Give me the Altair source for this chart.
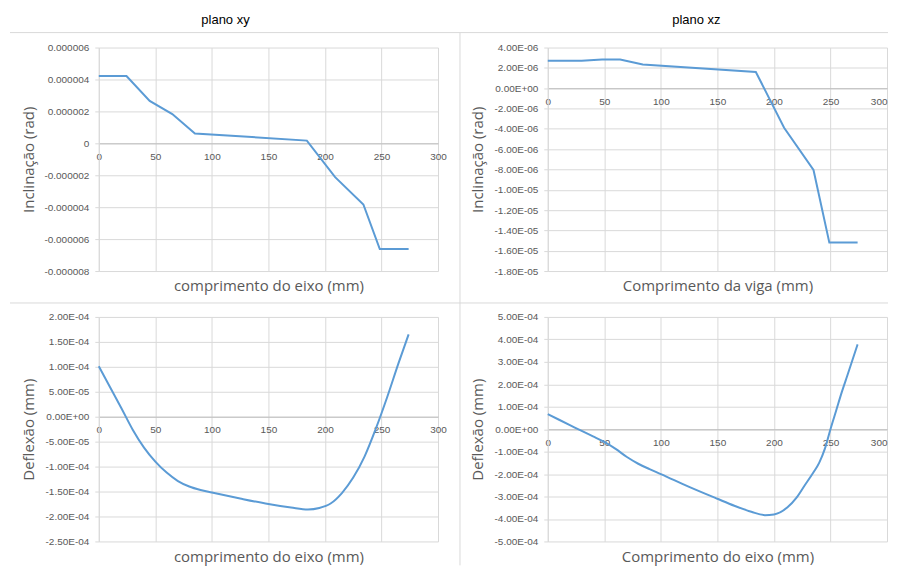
import json
import altair as alt
import pandas as pd

# ---------------- data ----------------
x_ticks = [0, 50, 100, 150, 200, 250, 300]

# Inclinação, plano xy
x_incl_xy = [0, 24.5, 45, 65, 85, 184, 209, 234, 248.5, 274]
y_incl_xy = [4.22e-6, 4.22e-6, 2.66e-6, 1.83e-6, 0.62e-6, 0.17e-6,
             -2.12e-6, -3.83e-6, -6.62e-6, -6.62e-6]

# Inclinação, plano xz
x_incl_xz = [0, 30, 48, 64, 84, 184, 209, 235, 249, 274]
y_incl_xz = [2.70e-6, 2.70e-6, 2.83e-6, 2.83e-6, 2.33e-6, 1.60e-6,
             -3.90e-6, -8.05e-6, -15.2e-6, -15.2e-6]

# Deflexão, plano xy
x_defl_xy = [0, 10, 20, 30, 40, 50, 60, 70, 80, 90, 100, 125, 150, 170,
             185, 195, 205, 215, 225, 235, 245, 255, 265, 274]
y_defl_xy = [1.01e-4, 0.59e-4, 0.17e-4, -0.26e-4, -0.62e-4, -0.90e-4,
             -1.12e-4, -1.29e-4, -1.40e-4, -1.47e-4, -1.52e-4, -1.64e-4,
             -1.75e-4, -1.82e-4, -1.86e-4, -1.83e-4, -1.74e-4, -1.53e-4,
             -1.22e-4, -0.80e-4, -0.24e-4, 0.39e-4, 1.07e-4, 1.65e-4]

# Deflexão, plano xz
x_defl_xz = [0, 10, 20, 30, 40, 50, 60, 70, 80, 90, 100, 125, 150, 165,
             180, 192, 200, 212, 220, 227, 235, 240, 245, 250, 255, 260,
             265, 274]
y_defl_xz = [0.67e-4, 0.42e-4, 0.17e-4, -0.08e-4, -0.32e-4, -0.57e-4,
             -0.88e-4, -1.24e-4, -1.54e-4, -1.78e-4, -2.00e-4, -2.57e-4,
             -3.10e-4, -3.41e-4, -3.68e-4, -3.83e-4, -3.80e-4, -3.48e-4,
             -3.05e-4, -2.52e-4, -1.92e-4, -1.50e-4, -0.88e-4, 0.0,
             0.82e-4, 1.65e-4, 2.40e-4, 3.78e-4]

# y tick labels (bottom to top)
ylab_incl_xy = ["-0.000008", "-0.000006", "-0.000004", "-0.000002", "0",
                "0.000002", "0.000004", "0.000006"]
ylab_incl_xz = ["-1.80E-05", "-1.60E-05", "-1.40E-05", "-1.20E-05",
                "-1.00E-05", "-8.00E-06", "-6.00E-06", "-4.00E-06",
                "-2.00E-06", "0.00E+00", "2.00E-06", "4.00E-06"]
ylab_defl_xy = ["-2.50E-04", "-2.00E-04", "-1.50E-04", "-1.00E-04",
                "-5.00E-05", "0.00E+00", "5.00E-05", "1.00E-04",
                "1.50E-04", "2.00E-04"]
ylab_defl_xz = ["-5.00E-04", "-4.00E-04", "-3.00E-04", "-2.00E-04",
                "-1.00E-04", "0.00E+00", "1.00E-04", "2.00E-04",
                "3.00E-04", "4.00E-04", "5.00E-04"]

# ---------------- styling ----------------
W = 340
GRID = "#d9d9d9"
ZERO = "#bfbfbf"
TEXT = "#595959"
LINE = "#5B9BD5"
LABEL_FONT = "Liberation Sans"
TITLE_FONT = "Open Sans"


def panel(xs, ys, ymin, ystep, ylabels, ytitle, xtitle, h,
          title=None, title_dx=0, interp="linear", deco=False,
          right_edge=False):
    df = pd.DataFrame({"x": xs, "y": ys})
    ymax = ymin + ystep * (len(ylabels) - 1)
    zfb = (0 - ymin) / (ymax - ymin) * h
    yvals = [ymin + i * ystep for i in range(len(ylabels))]
    label_expr = f"{json.dumps(ylabels)}[round((datum.value - ({ymin})) / {ystep})]"

    if right_edge:
        x_align = {"condition": {"test": "datum.value == 300", "value": "right"},
                   "value": "center"}
    else:
        x_align = "center"

    x_axis = alt.Axis(
        values=x_ticks, offset=-zfb, title=xtitle, titleY=zfb + 15,
        titleBaseline="middle", ticks=False, domainColor=ZERO,
        domainWidth=1, gridColor=GRID, labelFlush=False, labelPadding=8,
        labelAlign=x_align,
        labelFont=LABEL_FONT, labelFontSize=10, labelColor=TEXT,
        titleFont=TITLE_FONT, titleFontSize=15, titleColor=TEXT,
        titleFontWeight="normal",
    )
    y_axis = alt.Axis(
        values=yvals, labelExpr=label_expr, title=ytitle, titleX=-70,
        titleY=h / 2, titleBaseline="middle", titleAlign="center",
        tickSize=4, tickColor=GRID, domainColor=GRID, gridColor=GRID,
        labelPadding=6, labelFont=LABEL_FONT, labelFontSize=10,
        labelColor=TEXT, titleFont=TITLE_FONT, titleFontSize=15,
        titleColor=TEXT, titleFontWeight="normal",
    )
    line = alt.Chart(df).mark_line(
        color=LINE, strokeWidth=2, interpolate=interp
    ).encode(
        x=alt.X("x:Q", scale=alt.Scale(domain=[0, 300], nice=False, zero=False), axis=x_axis),
        y=alt.Y("y:Q", scale=alt.Scale(domain=[ymin, ymax], nice=False, zero=False), axis=y_axis),
    )
    layers = [line]
    if deco:
        # light separator lines of the sheet around the four charts
        one = pd.DataFrame({"k": [0]})
        sep = alt.Chart(one).mark_rule(color=GRID, strokeWidth=1)
        layers += [
            sep.encode(x=alt.value(-89), x2=alt.value(791), y=alt.value(-285)),
            sep.encode(x=alt.value(-89), x2=alt.value(791), y=alt.value(-14)),
            sep.encode(x=alt.value(362), y=alt.value(-285), y2=alt.value(249)),
        ]
    ch = alt.layer(*layers).properties(width=W, height=h)
    if title:
        ch = ch.properties(title=alt.TitleParams(
            title, font=LABEL_FONT, fontSize=13, color="#000",
            fontWeight="normal", dx=title_dx, offset=6, baseline="alphabetic"))
    return ch


tl = panel(x_incl_xy, y_incl_xy, -8e-6, 2e-6, ylab_incl_xy,
           "Inclinação (rad)", "comprimento do eixo (mm)", 224,
           title="plano xy", title_dx=-43)
tr = panel(x_incl_xz, y_incl_xz, -1.8e-5, 2e-6, ylab_incl_xz,
           "Inclinação (rad)", "Comprimento da viga (mm)", 224,
           title="plano xz", title_dx=-21, right_edge=True)
bl = panel(x_defl_xy, y_defl_xy, -2.5e-4, 5e-5, ylab_defl_xy,
           "Deflexão (mm)", "comprimento do eixo (mm)", 225,
           interp="monotone", deco=True)
br = panel(x_defl_xz, y_defl_xz, -5e-4, 1e-4, ylab_defl_xz,
           "Deflexão  (mm)", "Comprimento do eixo (mm)", 225,
           interp="monotone", right_edge=True)

chart = alt.concat(
    tl, tr, bl, br, columns=2,
    spacing={"row": 46, "column": 110}, bounds="flush",
).properties(
    padding={"left": 1, "top": 5, "right": 0, "bottom": 0},
    background="white",
).configure_view(stroke=None)

chart.save("out.html", embed_options={"renderer": "svg", "actions": False})
